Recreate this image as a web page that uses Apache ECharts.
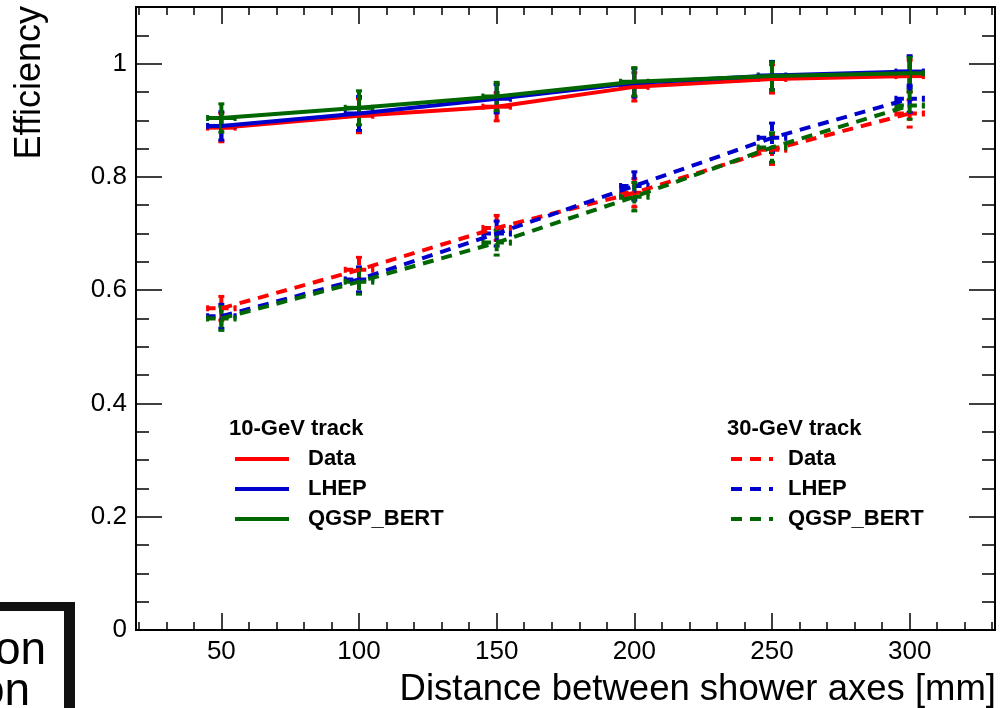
<!DOCTYPE html>
<html>
<head>
<meta charset="utf-8">
<title>Efficiency vs distance between shower axes</title>
<script src="https://cdn.jsdelivr.net/npm/echarts@6.0.0/dist/echarts.min.js"></script>
<style>
html,body{margin:0;padding:0;background:#fff;}
#main{width:1005px;height:708px;}
</style>
</head>
<body>
<div id="main"></div>
<script>
// distance between shower axes [mm]
var distances = [50, 100, 150, 200, 250, 300];
var xErr = 5;

// 10-GeV track (solid)
var data10 = [0.887, 0.908, 0.924, 0.959, 0.973, 0.978];
var lhep10 = [0.890, 0.912, 0.938, 0.966, 0.979, 0.986];
var qgsp10 = [0.904, 0.922, 0.942, 0.968, 0.978, 0.983];
var err10  = [0.025, 0.030, 0.025, 0.025, 0.025, 0.028];

// 30-GeV track (dashed)
var data30 = [0.568, 0.636, 0.710, 0.772, 0.848, 0.912];
var lhep30 = [0.554, 0.619, 0.700, 0.784, 0.869, 0.938];
var qgsp30 = [0.550, 0.615, 0.684, 0.765, 0.852, 0.926];
var err30  = [0.021, 0.022, 0.022, 0.025, 0.026, 0.024];

var xMajor = [50, 100, 150, 200, 250, 300];
var xMinor = [20, 30, 40, 50, 60, 70, 80, 90, 100, 110, 120, 130, 140, 150, 160, 170, 180, 190, 200, 210, 220, 230, 240, 250, 260, 270, 280, 290, 300, 310, 320, 330];
var yMajor = [0, 0.2, 0.4, 0.6, 0.8, 1];
var yMinor = [0.05, 0.1, 0.15, 0.2, 0.25, 0.3, 0.35, 0.4, 0.45, 0.5, 0.55, 0.6, 0.65, 0.7, 0.75, 0.8, 0.85, 0.9, 0.95, 1, 1.05];

var RED = '#ff0000', BLUE = '#0000cc', GREEN = '#006600';
var FONT = '"Liberation Sans", Arial, Helvetica, sans-serif';
var DASH = [11, 8];

var chart = echarts.init(document.getElementById('main'), null, {renderer: 'canvas'});

function lineSeries(name, values, color, dashed) {
    return {
        name: name,
        type: 'line',
        xAxisIndex: 0,
        yAxisIndex: 0,
        data: distances.map(function (d, i) { return [d, values[i]]; }),
        symbol: 'none',
        lineStyle: {color: color, width: 4, type: dashed ? DASH : 'solid'},
        itemStyle: {color: color},
        z: 3
    };
}

function errSeries(name, values, errs, color, dashed) {
    return {
        name: name + '-err',
        type: 'custom',
        xAxisIndex: 0,
        yAxisIndex: 0,
        silent: true,
        z: 3,
        data: distances.map(function (d, i) { return [d, values[i], errs[i], xErr]; }),
        renderItem: function (params, api) {
            var x = api.value(0), y = api.value(1), ey = api.value(2), ex = api.value(3);
            var c = api.coord([x, y]);
            var top = api.coord([x, y + ey])[1], bot = api.coord([x, y - ey])[1];
            var l = api.coord([x - ex, y])[0], r = api.coord([x + ex, y])[0];
            var st = {stroke: color, lineWidth: 4, lineDash: dashed ? [8, 5] : null};
            var cap = {stroke: color, lineWidth: 3};
            return {
                type: 'group',
                children: [
                    {type: 'line', shape: {x1: c[0], y1: top, x2: c[0], y2: bot}, style: st},
                    {type: 'line', shape: {x1: l, y1: c[1], x2: r, y2: c[1]}, style: st},
                    {type: 'line', shape: {x1: c[0] - 3, y1: top, x2: c[0] + 3, y2: top}, style: cap},
                    {type: 'line', shape: {x1: c[0] - 3, y1: bot, x2: c[0] + 3, y2: bot}, style: cap},
                    {type: 'line', shape: {x1: l, y1: c[1] - 3, x2: l, y2: c[1] + 3}, style: cap},
                    {type: 'line', shape: {x1: r, y1: c[1] - 3, x2: r, y2: c[1] + 3}, style: cap}
                ]
            };
        }
    };
}

function xAxisDef(grid, pos, ticks, len, labels) {
    return {
        type: 'value', gridIndex: grid, position: pos, min: 19, max: 331,
        axisLine: {show: true, onZero: false, lineStyle: {color: '#000', width: 2}},
        axisTick: {show: true, inside: true, length: len, customValues: ticks, lineStyle: {color: '#000', width: 1.5}},
        axisLabel: labels ? {show: true, customValues: ticks, fontSize: 26, color: '#000', fontFamily: FONT, margin: 9} : {show: false},
        splitLine: {show: false}
    };
}

function yAxisDef(grid, pos, ticks, len, labels) {
    return {
        type: 'value', gridIndex: grid, position: pos, min: 0, max: 1.1,
        axisLine: {show: true, onZero: false, lineStyle: {color: '#000', width: 2}},
        axisTick: {show: true, inside: true, length: len, customValues: ticks, lineStyle: {color: '#000', width: 1.5}},
        axisLabel: labels ? {
            show: true, customValues: ticks, fontSize: 26, color: '#000', fontFamily: FONT, margin: 9,
            formatter: function (v) { return String(Math.round(v * 10) / 10); }
        } : {show: false},
        splitLine: {show: false}
    };
}

// legend: small itemHeight so the default symbol hides inside the line
function legendDef(names, left, itemWidth, pad) {
    return {
        data: names,
        orient: 'vertical',
        left: left,
        top: 446,
        padding: 0,
        itemWidth: itemWidth,
        itemHeight: 4,
        itemGap: 4,
        selectedMode: false,
        formatter: function (n) { return n.split('|')[0]; },
        lineStyle: {width: 4},
        itemStyle: {opacity: 0},
        textStyle: {fontSize: 22, fontWeight: 'bold', color: '#000', fontFamily: FONT, lineHeight: 26, padding: [0, 0, 0, pad]}
    };
}

var headStyle = {fontSize: 22, fontWeight: 'bold', color: '#000', fontFamily: FONT};

chart.setOption({
    animation: false,
    backgroundColor: '#fff',
    title: [
        {text: '10-GeV track', left: 229, top: 418, padding: 0, textStyle: headStyle},
        {text: '30-GeV track', left: 727, top: 418, padding: 0, textStyle: headStyle}
    ],
    legend: [
        legendDef(['Data|10', 'LHEP|10', 'QGSP_BERT|10'], 233, 54, 14),
        legendDef(['Data|30', 'LHEP|30', 'QGSP_BERT|30'], 729, 42, 10)
    ],
    grid: [
        {left: 136, top: 7, right: 10, bottom: 78},
        {left: 136, top: 7, right: 10, bottom: 78}
    ],
    xAxis: [
        xAxisDef(0, 'bottom', xMajor, 17, true),
        xAxisDef(0, 'top', xMajor, 17, false),
        xAxisDef(1, 'bottom', xMinor, 8, false),
        xAxisDef(1, 'top', xMinor, 8, false)
    ],
    yAxis: [
        yAxisDef(0, 'left', yMajor, 26, true),
        yAxisDef(0, 'right', yMajor, 26, false),
        yAxisDef(1, 'left', yMinor, 13, false),
        yAxisDef(1, 'right', yMinor, 13, false)
    ],
    graphic: [
        {type: 'text', x: 30, y: 6, rotation: Math.PI / 2,
            style: {text: 'Efficiency', fontSize: 36, fontFamily: FONT, fill: '#000', align: 'right', verticalAlign: 'middle'}},
        {type: 'text', x: 996, y: 690,
            style: {text: 'Distance between shower axes [mm]', fontSize: 36.5, fontFamily: FONT, fill: '#000', align: 'right', verticalAlign: 'middle'}},
        // piece of a neighbouring figure at the bottom left
        {type: 'rect', shape: {x: 0, y: 602, width: 75, height: 9}, style: {fill: '#111'}},
        {type: 'rect', shape: {x: 64, y: 602, width: 11, height: 106}, style: {fill: '#111'}},
        {type: 'text', x: -5, y: 674, style: {text: 'on', fontSize: 46, fontFamily: FONT, fill: '#000', verticalAlign: 'bottom'}},
        {type: 'text', x: -21, y: 715, style: {text: 'on', fontSize: 46, fontFamily: FONT, fill: '#000', verticalAlign: 'bottom'}}
    ],
    series: [
        lineSeries('Data|10', data10, RED, false),
        errSeries('Data|10', data10, err10, RED, false),
        lineSeries('LHEP|10', lhep10, BLUE, false),
        errSeries('LHEP|10', lhep10, err10, BLUE, false),
        lineSeries('QGSP_BERT|10', qgsp10, GREEN, false),
        errSeries('QGSP_BERT|10', qgsp10, err10, GREEN, false),
        lineSeries('Data|30', data30, RED, true),
        errSeries('Data|30', data30, err30, RED, true),
        lineSeries('LHEP|30', lhep30, BLUE, true),
        errSeries('LHEP|30', lhep30, err30, BLUE, true),
        lineSeries('QGSP_BERT|30', qgsp30, GREEN, true),
        errSeries('QGSP_BERT|30', qgsp30, err30, GREEN, true)
    ]
});
</script>
</body>
</html>
